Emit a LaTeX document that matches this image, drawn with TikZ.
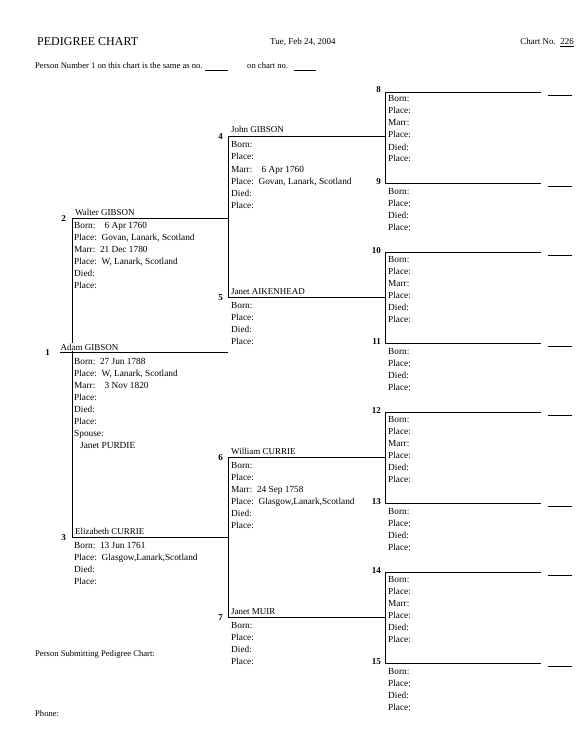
\documentclass[tikz,border=0pt]{standalone}
\usepackage{fontspec}
\setmainfont{Liberation Serif}
\begin{document}
\begin{tikzpicture}[x=1pt,y=-1pt,
  txt/.style={anchor=base west,inner sep=0pt,font=\fontsize{9.3}{11}\selectfont},
  namelab/.style={anchor=base west,inner sep=0pt,font=\fontsize{9}{11}\selectfont},
  numlab/.style={anchor=base east,inner sep=0pt,font=\fontsize{9}{11}\selectfont\bfseries},
  ln/.style={line width=0.8pt},
  blank/.style={line width=0.6pt}]
\useasboundingbox (0,0) rectangle (576,754);
% header
\node[txt,font=\fontsize{12}{14}\selectfont] (title) at (37,46) {PEDIGREE CHART};
\node[txt,font=\fontsize{9}{11}\selectfont] (date) at (270,45) {Tue, Feb 24, 2004};
\node[txt,anchor=base east,font=\fontsize{9}{11}\selectfont] (chartno) at (574,45) {Chart No.~~\underline{226}};
\node[txt,font=\fontsize{8.6}{10}\selectfont] (same) at (35,69) {Person Number 1 on this chart is the same as no.};
\coordinate (b1a) at (205,70); \coordinate (b1b) at (228,70);
\draw[blank] (b1a) -- (b1b);
\node[txt,font=\fontsize{8.6}{10}\selectfont] (onchart) at (247,69) {on chart no.};
\coordinate (b2a) at (294,70); \coordinate (b2b) at (316,70);
\draw[blank] (b2a) -- (b2b);
% generation 2 vertical (drawn first so the name of person 1 can cover it)
\coordinate (v1a) at (72,218); \coordinate (v1b) at (72,537);
\draw[ln] (v1a) -- (v1b);
% generation 1
\coordinate (l1a) at (60,352); \coordinate (l1b) at (228,352);
\draw[ln] (l1a) -- (l1b);
\node[numlab] (n1) at (50,355) {1};
\node[namelab,fill=white,inner ysep=1pt,inner xsep=0.5pt] (name1) at (60,350) {Adam GIBSON};
\foreach \t [count=\i from 0] in {{Born:~~27 Jun 1788}, {Place:~~W, Lanark, Scotland}, {Marr:~~~~3 Nov 1820}, {Place:}, {Died:}, {Place:}, {Spouse:}}
  \node[txt] (p1d\i) at (74,364.5+12*\i) {\t};
\node[txt] (spouse) at (80,448.5) {Janet PURDIE};
% generation 2
\coordinate (l2b) at (228,218);
\draw[ln] (v1a) -- (l2b);
\node[numlab] (n2) at (66,221) {2};
\node[namelab] (name2) at (75,215) {Walter GIBSON};
\foreach \t [count=\i from 0] in {{Born:~~~~6 Apr 1760}, {Place:~~Govan, Lanark, Scotland}, {Marr:~~21 Dec 1780}, {Place:~~W, Lanark, Scotland}, {Died:}, {Place:}}
  \node[txt] (p2d\i) at (74,228.5+12*\i) {\t};
\coordinate (l3b) at (228,537);
\draw[ln] (v1b) -- (l3b);
\node[numlab] (n3) at (66,540) {3};
\node[namelab] (name3) at (75,534) {Elizabeth CURRIE};
\foreach \t [count=\i from 0] in {{Born:~~13 Jun 1761}, {Place:~~Glasgow,Lanark,Scotland}, {Died:}, {Place:}}
  \node[txt] (p3d\i) at (74,548.5+12*\i) {\t};
% generation 3
\coordinate (v2a) at (228,136); \coordinate (v2b) at (228,297);
\coordinate (v3a) at (228,457); \coordinate (v3b) at (228,617);
\draw[ln] (v2a) -- (v2b);
\draw[ln] (v3a) -- (v3b);
\coordinate (l4b) at (385,136); \coordinate (l5b) at (385,297);
\coordinate (l6b) at (385,457); \coordinate (l7b) at (385,617);
\draw[ln] (v2a) -- (l4b);
\draw[ln] (v2b) -- (l5b);
\draw[ln] (v3a) -- (l6b);
\draw[ln] (v3b) -- (l7b);
\node[numlab] (n4) at (223,140) {4};
\node[namelab] (name4) at (231,133) {John GIBSON};
\foreach \t [count=\i from 0] in {{Born:}, {Place:}, {Marr:~~~~6 Apr 1760}, {Place:~~Govan, Lanark, Scotland}, {Died:}, {Place:}}
  \node[txt] (p4d\i) at (231,148+12*\i) {\t};
\node[numlab] (n5) at (223,300) {5};
\node[namelab] (name5) at (231,294) {Janet AIKENHEAD};
\foreach \t [count=\i from 0] in {Born:, Place:, Died:, Place:}
  \node[txt] (p5d\i) at (231,308+12*\i) {\t};
\node[numlab] (n6) at (223,460) {6};
\node[namelab] (name6) at (231,454) {William CURRIE};
\foreach \t [count=\i from 0] in {{Born:}, {Place:}, {Marr:~~24 Sep 1758}, {Place:~~Glasgow,Lanark,Scotland}, {Died:}, {Place:}}
  \node[txt] (p6d\i) at (231,468+12*\i) {\t};
\node[numlab] (n7) at (223,620) {7};
\node[namelab] (name7) at (231,614) {Janet MUIR};
\foreach \t [count=\i from 0] in {Born:, Place:, Died:, Place:}
  \node[txt] (p7d\i) at (231,628+12*\i) {\t};
% generation 4
\foreach \a/\b/\m/\f in {92/183/8/9, 252/343/10/11, 412/503/12/13, 572/663/14/15}{
  \coordinate (va\m) at (385,\a);
  \coordinate (vb\m) at (385,\b);
  \draw[ln] (va\m) -- (vb\m);
  \coordinate (ea\m) at (541,\a);
  \coordinate (eb\m) at (541,\b);
  \draw[ln] (va\m) -- (ea\m);
  \draw[ln] (vb\m) -- (eb\m);
  \coordinate (sa\m) at (548,\a+3.5); \coordinate (sae\m) at (572,\a+3.5);
  \coordinate (sb\m) at (548,\b+3.5); \coordinate (sbe\m) at (572,\b+3.5);
  \draw[blank] (sa\m) -- (sae\m);
  \draw[blank] (sb\m) -- (sbe\m);
  \node[numlab] (n\m) at (381,\a+1) {\m};
  \node[numlab] (n\f) at (381,\b+1) {\f};
  \foreach \t [count=\i from 0] in {Born:, Place:, Marr:, Place:, Died:, Place:}
    \node[txt] (p\m d\i) at (388,\a+10+12*\i) {\t};
  \foreach \t [count=\i from 0] in {Born:, Place:, Died:, Place:}
    \node[txt] (p\f d\i) at (388,\b+11+12*\i) {\t};
}
% footer
\node[txt,font=\fontsize{8.6}{10}\selectfont] (submit) at (35,656) {Person Submitting Pedigree Chart:};
\node[txt,font=\fontsize{8.6}{10}\selectfont] (phone) at (35,716) {Phone:};
\end{tikzpicture}
\end{document}
